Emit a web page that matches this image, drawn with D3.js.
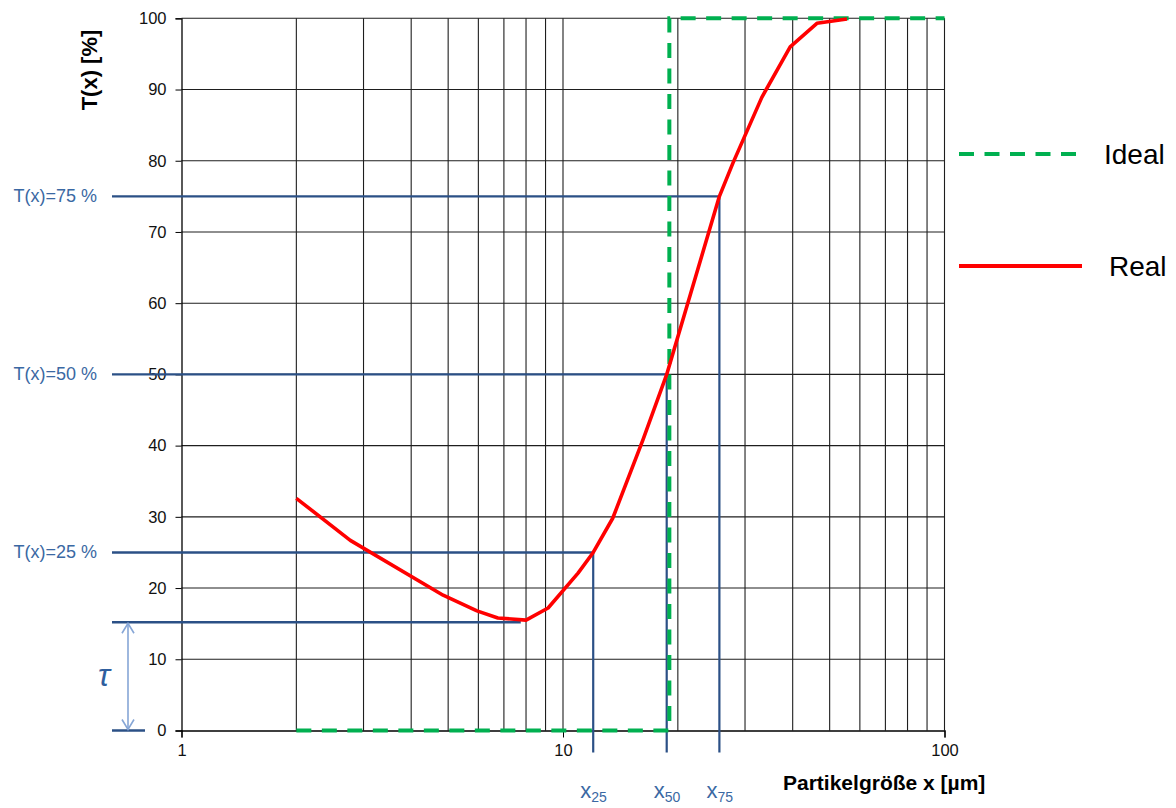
<!DOCTYPE html>
<html>
<head>
<meta charset="utf-8">
<script src="https://cdn.jsdelivr.net/npm/d3@7"></script>
<style>
  html, body { margin: 0; padding: 0; background: #fff; }
  svg { display: block; }
  text { font-family: "Liberation Sans", Arial, sans-serif; }
</style>
</head>
<body>
<svg id="chart" width="1176" height="808"></svg>
<script>
// Particle size distribution: passing fraction T(x) over particle size x (log scale)
const xTicks = [1, 10, 100];
const yTicks = [0, 10, 20, 30, 40, 50, 60, 70, 80, 90, 100];
const xGrid = [2, 3, 4, 5, 6, 7, 8, 9, 10, 20, 30, 40, 50, 60, 70, 80, 90];

// Real curve
const realSize = [2, 2.77, 4.85, 5.95, 6.75, 8.0, 9.14, 10.95, 12, 13.5, 16.2, 18.7, 25.7, 27.9, 33.2, 39.4, 46.3, 55.5];
const realT    = [32.6, 26.7, 19.0, 16.8, 15.8, 15.5, 17.2, 22.1, 25, 29.8, 40.8, 50, 75, 79.7, 88.9, 96.0, 99.3, 99.9];

// Ideal (sharp cut) curve
const idealSize = [2, 19, 19, 100];
const idealT    = [0, 0, 100, 100];

// Characteristic values
const quantileT    = [25, 50, 75];
const quantileSize = [12, 18.7, 25.7];
const quantileSub  = ["25", "50", "75"];
const tauValue = 15.2;
const tauEndSize = 7.75;

const svg = d3.select("#chart");
const x = d3.scaleLog().domain([1, 100]).range([181.5, 944.5]);
const y = d3.scaleLinear().domain([0, 100]).range([730.5, 18.3]);

const gridColor = "#1e1e1e";
const blueLine = "#2b5086";
const blueText = "#3a68a3";

// grid
const grid = svg.append("g");
grid.selectAll("line.v").data(xGrid).join("line")
  .attr("x1", d => x(d)).attr("x2", d => x(d))
  .attr("y1", y(100)).attr("y2", y(0))
  .attr("stroke", gridColor).attr("stroke-width", 1.1);
grid.selectAll("line.h").data(yTicks.filter(d => d > 0)).join("line")
  .attr("x1", x(1)).attr("x2", x(100))
  .attr("y1", d => y(d)).attr("y2", d => y(d))
  .attr("stroke", gridColor).attr("stroke-width", 1.1);
// right frame
grid.append("line").attr("x1", x(100)).attr("x2", x(100)).attr("y1", y(100)).attr("y2", y(0))
  .attr("stroke", gridColor).attr("stroke-width", 1.1);

// axes
const yAxis = d3.axisLeft(y).tickValues(yTicks).tickSize(6).tickPadding(9).tickFormat(d3.format("d"));
const gy = svg.append("g").attr("transform", `translate(${x(1)},0)`).call(yAxis);
gy.select(".domain").attr("stroke", "#000").attr("stroke-width", 1.3);
gy.selectAll(".tick line").attr("stroke", "#000");
gy.selectAll(".tick text").attr("font-size", 16.5).attr("fill", "#111")
  .attr("font-family", "'Liberation Sans', Arial, sans-serif");

const xAxis = d3.axisBottom(x).tickValues(xTicks).tickSize(7).tickPadding(7).tickFormat(d3.format("d"));
const gx = svg.append("g").attr("transform", `translate(0,${y(0)})`).call(xAxis);
gx.select(".domain").attr("stroke", "#000").attr("stroke-width", 1.3);
gx.selectAll(".tick line").attr("stroke", "#000");
gx.selectAll(".tick text").attr("font-size", 16.5).attr("fill", "#111")
  .attr("font-family", "'Liberation Sans', Arial, sans-serif");

// axis titles
svg.append("text")
  .attr("transform", `translate(97,70) rotate(-90)`)
  .attr("text-anchor", "middle")
  .attr("font-size", 22).attr("font-weight", "bold").attr("fill", "#000")
  .text("T(x) [%]");
svg.append("text")
  .attr("x", 783).attr("y", 790)
  .attr("font-size", 21).attr("font-weight", "bold").attr("fill", "#000")
  .text("Partikelgröße x [µm]");

// quantile guide lines
const labelX = 112;
const q = svg.append("g");
quantileT.forEach((t, i) => {
  q.append("line")
    .attr("x1", labelX).attr("x2", x(quantileSize[i]))
    .attr("y1", y(t)).attr("y2", y(t))
    .attr("stroke", blueLine).attr("stroke-width", 2.4);
  q.append("line")
    .attr("x1", x(quantileSize[i])).attr("x2", x(quantileSize[i]))
    .attr("y1", y(t)).attr("y2", 752.5)
    .attr("stroke", blueLine).attr("stroke-width", 2.2);
  q.append("text")
    .attr("x", 97).attr("y", y(t) + 6)
    .attr("text-anchor", "end")
    .attr("font-size", 18).attr("fill", blueText)
    .text(`T(x)=${t} %`);
  const lbl = q.append("text")
    .attr("x", x(quantileSize[i]) - 13).attr("y", 798)
    .attr("fill", blueText).attr("font-size", 22);
  lbl.append("tspan").text("x");
  lbl.append("tspan").attr("font-size", 14).attr("dy", 4).text(quantileSub[i]);
});

// tau: minimum of the real curve
q.append("line")
  .attr("x1", labelX).attr("x2", x(tauEndSize))
  .attr("y1", y(tauValue)).attr("y2", y(tauValue))
  .attr("stroke", blueLine).attr("stroke-width", 2.6);
q.append("line")
  .attr("x1", labelX).attr("x2", 145)
  .attr("y1", y(0)).attr("y2", y(0))
  .attr("stroke", blueLine).attr("stroke-width", 2.6);
const arrowX = 128;
const arrowColor = "#86a6d6";
q.append("line")
  .attr("x1", arrowX).attr("x2", arrowX)
  .attr("y1", y(tauValue) + 2).attr("y2", y(0) - 2)
  .attr("stroke", arrowColor).attr("stroke-width", 1.6);
q.append("path")
  .attr("d", `M${arrowX - 6},${y(tauValue) + 11} L${arrowX},${y(tauValue) + 1} L${arrowX + 6},${y(tauValue) + 11}`
           + ` M${arrowX - 6},${y(0) - 11} L${arrowX},${y(0) - 1} L${arrowX + 6},${y(0) - 11}`)
  .attr("fill", "none").attr("stroke", arrowColor).attr("stroke-width", 1.6);
q.append("text")
  .attr("x", 98).attr("y", 686)
  .attr("font-family", "'DejaVu Serif', serif").attr("font-style", "italic")
  .attr("font-size", 32).attr("fill", "#2f5e9e")
  .text("τ");

// curves
const line = d3.line().x(d => x(d[0])).y(d => y(d[1]));
svg.append("path")
  .datum(idealSize.map((s, i) => [s, idealT[i]]))
  .attr("d", line)
  .attr("fill", "none").attr("stroke", "#00b050").attr("stroke-width", 4)
  .attr("stroke-dasharray", "15,10.5");
svg.append("path")
  .datum(realSize.map((s, i) => [s, realT[i]]))
  .attr("d", line)
  .attr("fill", "none").attr("stroke", "#ff0000").attr("stroke-width", 3.6)
  .attr("stroke-linejoin", "round");

// legend
const legend = svg.append("g");
legend.append("line").attr("x1", 959).attr("x2", 1077).attr("y1", 154).attr("y2", 154)
  .attr("stroke", "#00b050").attr("stroke-width", 4).attr("stroke-dasharray", "15,10.5");
legend.append("text").attr("x", 1104).attr("y", 164).attr("font-size", 28).attr("fill", "#000").text("Ideal");
legend.append("line").attr("x1", 959).attr("x2", 1082).attr("y1", 266).attr("y2", 266)
  .attr("stroke", "#ff0000").attr("stroke-width", 4);
legend.append("text").attr("x", 1109).attr("y", 276).attr("font-size", 28).attr("fill", "#000").text("Real");
</script>
</body>
</html>
